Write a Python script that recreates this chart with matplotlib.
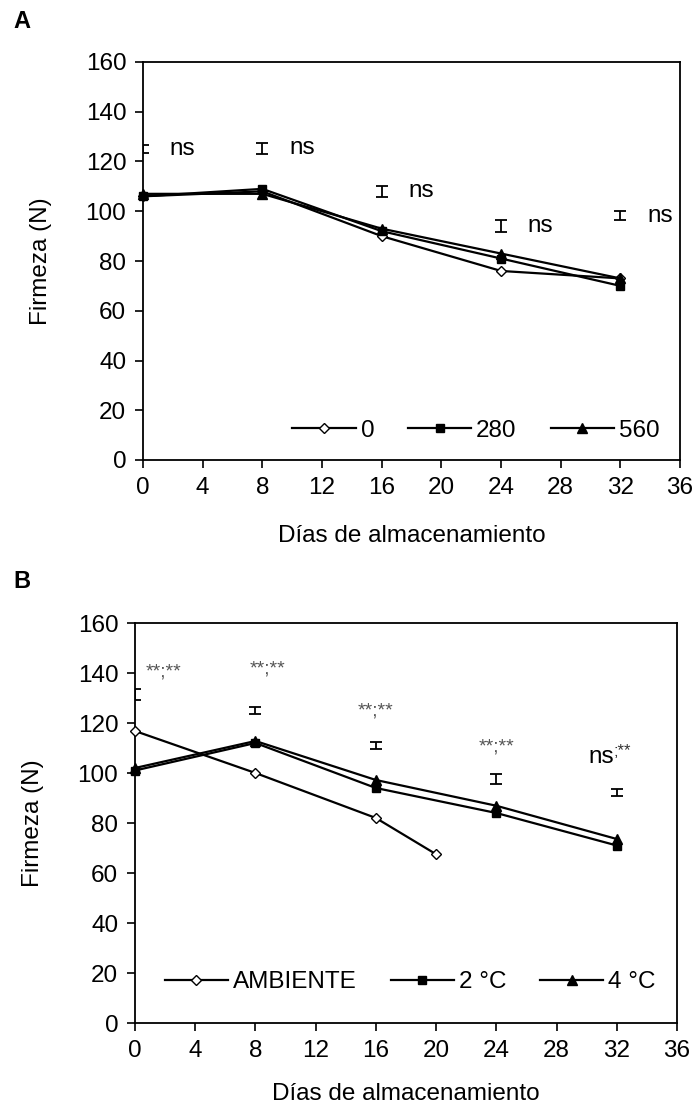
"""Firmness over storage days: dose panel (A) and temperature panel (B)."""
import matplotlib
matplotlib.use("Agg")
import matplotlib.pyplot as plt

plt.rcParams["font.family"] = ["Liberation Sans", "DejaVu Sans"]
plt.rcParams["font.size"] = 17.5

# ── Panel A data ──────────────────────────────────────────────────────────
days = [0, 8, 16, 24, 32]
a_0 = [106, 108, 90, 76, 73]
a_280 = [106, 109, 92, 81, 70]
a_560 = [107, 107, 93, 83, 73]
a_bar_y = [125, 125.4, 108.1, 94.1, 98.2]
a_bar_err = [1.6, 2.2, 2.2, 2.4, 1.7]
a_sig = ["ns", "ns", "ns", "ns", "ns"]

# ── Panel B data ──────────────────────────────────────────────────────────
b_amb_days = [0, 8, 16, 20]
b_amb = [116.8, 100, 82, 67.5]
b_2c = [101, 112, 94, 84, 71]
b_4c = [102, 112.8, 97.2, 86.9, 73.6]
b_bar_y = [131.5, 125, 111, 97.5, 92.3]
b_bar_err = [2.3, 1.5, 1.5, 2.0, 1.5]
b_sig = ["**;**", "**;**", "**;**", "**;**", "ns;**"]
b_sig_x = [1.9, 8.8, 16.0, 24.0, 30.1]
b_sig_y = [140.5, 141.5, 125, 110.5, 106.4]

W, H = 693, 1107
fig = plt.figure(figsize=(W / 100, H / 100), dpi=100)


def px_axes(left, top, right, bottom):
    return fig.add_axes([left / W, 1 - bottom / H, (right - left) / W, (bottom - top) / H])


def style(ax, xpad):
    ax.set_xlim(0, 36)
    ax.set_ylim(0, 160)
    ax.set_xticks(range(0, 37, 4))
    ax.set_yticks(range(0, 161, 20))
    ax.tick_params(direction="out", length=6, width=1.2, pad=6)
    for s in ax.spines.values():
        s.set_linewidth(1.3)
    ax.set_xlabel("Días de almacenamiento", labelpad=xpad)
    ax.set_ylabel("Firmeza (N)", labelpad=24)


line_kw = dict(color="black", lw=1.6, clip_on=False, zorder=3)
leg_kw = dict(loc="center", ncol=3, frameon=False, handlelength=2.6,
              handletextpad=0.2, columnspacing=1.4, borderpad=0)

# ── A ─────────────────────────────────────────────────────────────────────
ax = px_axes(143, 62, 680, 460)
ax.plot(days, a_0, marker="D", ms=5.5, mfc="white", mec="black", label="0", **line_kw)
ax.plot(days, a_280, marker="s", ms=6, mfc="black", mec="black", label="280", **line_kw)
ax.plot(days, a_560, marker="^", ms=7, mfc="black", mec="black", label="560", **line_kw)
ax.errorbar(days, a_bar_y, yerr=a_bar_err, fmt="none", ecolor="black",
            elinewidth=1.3, capsize=4, capthick=1.3)
for x, y, s in zip(days, a_bar_y, a_sig):
    ax.text(x + 1.8, y, s, ha="left", va="center")
style(ax, 19)
ax.legend(bbox_to_anchor=(0.62, 0.073), **leg_kw)
fig.text(22 / W, 1 - 21 / H, "A", ha="center", va="center", fontsize=17, fontweight="bold")

# ── B ─────────────────────────────────────────────────────────────────────
ax = px_axes(135, 623, 677, 1023)
ax.plot(b_amb_days, b_amb, marker="D", ms=5.5, mfc="white", mec="black",
        label="AMBIENTE", **line_kw)
ax.plot(days, b_2c, marker="s", ms=6, mfc="black", mec="black", label="2 °C", **line_kw)
ax.plot(days, b_4c, marker="^", ms=7, mfc="black", mec="black", label="4 °C", **line_kw)
ax.errorbar(days, b_bar_y, yerr=b_bar_err, fmt="none", ecolor="black",
            elinewidth=1.3, capsize=4, capthick=1.3)
for x, y, s in zip(b_sig_x, b_sig_y, b_sig):
    if s.startswith("ns"):
        # "ns" full size, ";**" as a small superscript after it
        t = ax.text(x, y, s[:2], ha="left", va="center")
        ax.annotate(s[2:], xy=(1, 0.75), xycoords=t, ha="left", va="center",
                    fontsize=12, color="#333333")
    else:
        ax.text(x, y, s, ha="center", va="center", fontsize=14, color="#555555")
style(ax, 15)
ax.legend(bbox_to_anchor=(0.508, 0.1025), **leg_kw)
fig.text(22 / W, 1 - 582 / H, "B", ha="center", va="center", fontsize=17, fontweight="bold")

fig.savefig("out.png", dpi=100)
